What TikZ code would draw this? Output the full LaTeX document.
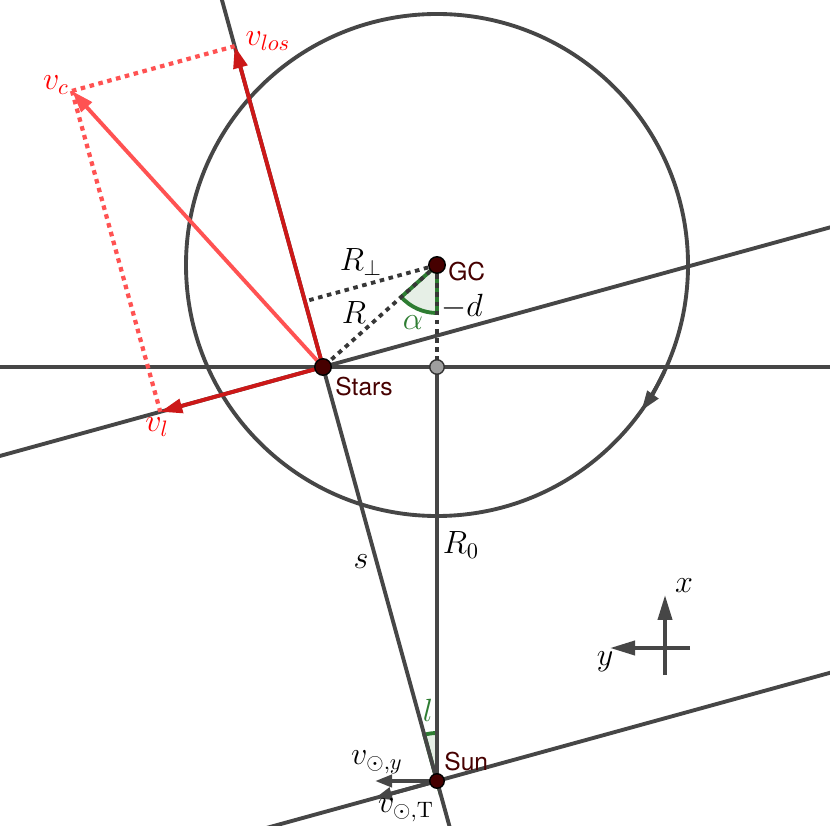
\documentclass[tikz,border=0pt]{standalone}
\usepackage{amsmath,amssymb}
\usepackage{fontspec}
\setsansfont{TeX Gyre Heros}
\usepackage{tikz}
\usepackage{xcolor}
\usetikzlibrary{arrows.meta, calc}

\definecolor{geogray}{RGB}{70,70,70}
\definecolor{auxgray}{RGB}{55,55,55}
\definecolor{vdark}{RGB}{204,24,24}
\definecolor{vlight}{RGB}{255,82,82}
\definecolor{anggreen}{RGB}{46,125,50}
\definecolor{ptred}{RGB}{70,0,0}

\newcommand{\mlbl}[1]{\scalebox{1.27}{$#1$}}

\begin{document}
\begin{tikzpicture}[
  x=0.02cm, y=0.02cm,
  every node/.style={font=\fontsize{14.4}{17}\selectfont, inner sep=1pt},
  geo/.style={draw=geogray, line width=2.2pt},
  aux/.style={draw=auxgray, line width=2.2pt, dash pattern=on 2.6pt off 2.6pt},
  comp/.style={draw=vlight, line width=2.4pt, dash pattern=on 2.6pt off 2.6pt},
  vecdark/.style={draw=vdark, line width=2.2pt, -{Triangle[length=4.4mm, width=2.8mm]}},
  veclight/.style={draw=vlight, line width=2.2pt, -{Triangle[length=4.4mm, width=2.8mm]}},
  sunvec/.style={draw=geogray, line width=2.2pt, -{Triangle[length=3.4mm, width=2.4mm]}},
  axisvec/.style={draw=geogray, line width=2.2pt, -{Triangle[length=5mm, width=2.8mm]}},
  dot/.style={circle, draw=black, fill=ptred, line width=0.8pt, minimum size=3.3mm, inner sep=0pt},
  gdot/.style={circle, draw=black!80, fill=gray!75, line width=0.8pt, minimum size=2.9mm, inner sep=0pt},
  place/.style={font=\sffamily\fontsize{14}{16}\selectfont, text=ptred, inner sep=0pt},
  wedge/.style={draw=anggreen, fill=anggreen!12, line width=2.2pt}
]
\useasboundingbox (0,0) rectangle (830,825);
\clip (0,0) rectangle (830,825);

% Main points
\coordinate (GC) at (437,560);
\coordinate (Stars) at (323,458);
\coordinate (Sun) at (437,44);
\coordinate (Mid) at (437,458);
\coordinate (hleft) at (0,458);
\coordinate (hright) at (830,458);

% Angles alpha and l
\filldraw[wedge] (GC) -- ++(221.8:48) arc[start angle=221.8, end angle=270, radius=48] -- cycle;
\filldraw[wedge] (Sun) -- ++(90:48) arc[start angle=90, end angle=105.4, radius=48] -- cycle;

% Circle, axes of the construction
\draw[geo] (GC) circle[radius=251];
\draw[geo, -{Triangle[length=4mm, width=2.6mm]}] (GC) ++(-25:251) arc[start angle=-25, end angle=-35.5, radius=251];
\draw[geo] (hleft) -- (hright);
\draw[geo] ($(Stars)!-1!(Sun)$) -- ($(Stars)!1.2!(Sun)$);
\draw[geo] ($(Stars)!2!90:(Sun)$) -- ($(Stars)!2!-90:(Sun)$);
\draw[geo] ($(Sun)!2!90:(Stars)$) -- ($(Sun)!2!-90:(Stars)$);
\draw[geo] (Mid) -- (Sun);

% Dotted distances R, R_perp, -d
\coordinate (foot) at ($(Stars)!(GC)!(Sun)$);
\draw[aux] (GC) -- (Mid);
\draw[aux] (GC) -- (Stars);
\draw[aux] (GC) -- (foot);

% Velocity of the stars
\coordinate (vlos) at ($(Stars)!-0.775!(Sun)$);
\coordinate (vl) at ($(Stars)!0.393!-90:(Sun)$);
\coordinate (vc) at ($(vlos)+(vl)-(Stars)$);
\draw[comp] (vc) -- (vlos);
\draw[comp] (vc) -- (vl);
\draw[veclight] (Stars) -- (vc);
\draw[vecdark] (Stars) -- (vlos);
\draw[vecdark] (Stars) -- (vl);

% Velocity of the Sun
\coordinate (vsy) at ($(Sun)+(-62,0)$);
\coordinate (vsT) at ($(Sun)!0.15!90:(Stars)$);
\draw[sunvec] (Sun) -- (vsy);
\draw[sunvec] (Sun) -- (vsT);

% x/y directions
\coordinate (xbase) at (665,150);
\coordinate (xtip) at (665,230);
\coordinate (ybase) at (690,177);
\coordinate (ytip) at (610,177);
\draw[axisvec] (xbase) -- (xtip);
\draw[axisvec] (ybase) -- (ytip);

% Points
\node[gdot] (midpt) at (Mid) {};
\node[dot] (gcpt) at (GC) {};
\node[dot] (starspt) at (Stars) {};
\node[dot, minimum size=2.9mm] (sunpt) at (Sun) {};

% Labels
\node[place, anchor=west] (gclbl) at (448,553) {GC};
\node[place, anchor=west] (starslbl) at (335,438) {Stars};
\node[place, anchor=west] (sunlbl) at (444,63) {Sun};
\node[text=red] (vloslbl) at (268,784) {\mlbl{v_{los}}};
\node[text=red] (vclbl) at (56,740) {\mlbl{v_c}};
\node[text=red] (vllbl) at (157,398) {\mlbl{v_l}};
\node (rperplbl) at (361,563) {\mlbl{R_\perp}};
\node (rlbl) at (354,512) {\mlbl{R}};
\node (dlbl) at (462,518) {\mlbl{-d}};
\node[text=anggreen] (alphalbl) at (413,502) {\mlbl{\alpha}};
\node (slbl) at (361,263) {\mlbl{s}};
\node (r0lbl) at (461,280) {\mlbl{R_0}};
\node[text=anggreen] (llbl) at (428,115) {\mlbl{l}};
\node (vsylbl) at (377,63) {\mlbl{v_{\odot,y}}};
\node (vstlbl) at (406,15) {\mlbl{v_{\odot,\mathrm{T}}}};
\node (xlbl) at (684,239) {\mlbl{x}};
\node (ylbl) at (605,163) {\mlbl{y}};

\end{tikzpicture}
\end{document}
